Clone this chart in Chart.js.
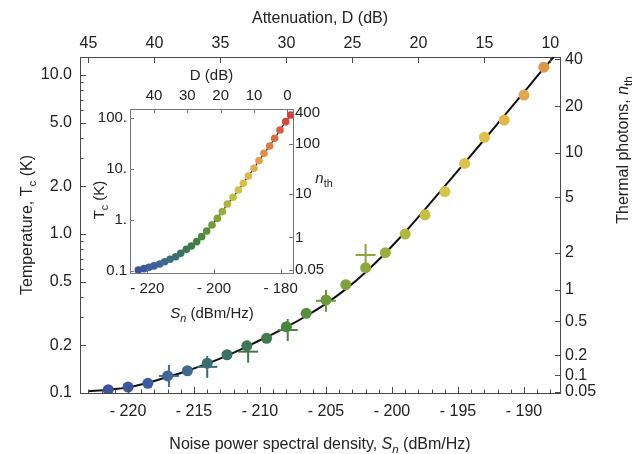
<!DOCTYPE html>
<html>
<head>
<meta charset="utf-8">
<script src="https://cdn.jsdelivr.net/npm/chart.js@4.4.0/dist/chart.umd.min.js"></script>
<style>
  html, body { margin: 0; padding: 0; background: #fff; }
  #wrap { position: relative; width: 636px; height: 454px; }
  #main { position: absolute; left: 0; top: 0; }
  #inset { position: absolute; left: 90px; top: 60px; }
</style>
</head>
<body>
<div id="wrap">
  <canvas id="main" width="636" height="454"></canvas>
  <canvas id="inset" width="250" height="265"></canvas>
</div>
<script>
// Main plot: measured points (Sn in dBm/Hz, Tc in K)
const snMain = [-221.5, -220, -218.5, -217, -215.5, -214, -212.5, -211, -209.5, -208, -206.5, -205,
                -203.5, -202, -200.5, -199, -197.5, -196, -194.5, -193, -191.5, -190, -188.5];
const tcMain = [0.105, 0.109, 0.115, 0.128, 0.138, 0.154, 0.174, 0.198, 0.221, 0.261, 0.317, 0.385,
                0.48, 0.614, 0.763, 1.0, 1.32, 1.85, 2.78, 4.06, 5.21, 7.48, 11.2];
const colMain = ['#3a54a2', '#3b57a1', '#3d5c9f', '#3f6396', '#3e6a8c', '#3a6e72', '#3a7164', '#3c7656',
                 '#3f7c4a', '#478441', '#57903c', '#6a9a3a', '#7ea23a', '#8ea73c', '#9caf3c', '#b0b83e',
                 '#c5c040', '#d6c446', '#dfc24a', '#e2be4a', '#e3b64c', '#e3a850', '#df9648'];

// Main plot: points with error bars
const snCross = [-216.9, -214, -210.9, -207.9, -205, -202];
const tcCross = [0.128, 0.146, 0.182, 0.249, 0.38, 0.738];
const colCross = ['#456a96', '#3a6e6e', '#3d7650', '#4a843f', '#6e9a38', '#8ea83a'];

// Main plot: model curve
const snFit = [-223, -221.5, -220, -218.5, -217, -215.5, -214, -212.5, -211, -209.5, -208, -206.5,
               -205, -203.5, -202, -200.5, -199, -197.5, -196, -194.5, -193, -191.5, -190, -188.5, -187.7];
const tcFit = [0.1025, 0.105, 0.1085, 0.116, 0.126, 0.138, 0.153, 0.172, 0.196, 0.225, 0.26, 0.305,
               0.365, 0.45, 0.575, 0.76, 1.03, 1.43, 2.0, 2.8, 3.93, 5.53, 7.8, 11.0, 13.1];

// Inset: full data set
const snInset = [-222.7, -221.0, -219.5, -218.0, -216.3, -214.8, -213.2, -211.5, -210.0, -208.3,
                 -206.8, -205.2, -203.7, -202.2, -200.6, -199.0, -197.5, -196.0, -194.3, -192.7,
                 -191.2, -189.7, -188.0, -186.5, -185.0, -183.3, -181.8, -180.2, -178.5, -177.0];
const tcInset = [0.103, 0.1096, 0.1165, 0.124, 0.135, 0.150, 0.167, 0.188, 0.219, 0.262,
                 0.305, 0.371, 0.465, 0.600, 0.787, 1.06, 1.44, 2.03, 2.75, 3.82,
                 5.17, 7.19, 10.2, 14.4, 20.0, 27.9, 39.4, 57.4, 83.6, 113];
const colInset = ['#3b52a0', '#3c56a0', '#3d5aa0', '#3e5f9c', '#3e6596', '#3e6a8c', '#3d6e80', '#3b7070',
                  '#3a7262', '#3b7656', '#3e7b4c', '#437f44', '#4e8740', '#5e903c', '#72993a', '#86a33a',
                  '#9aac3c', '#aeb63e', '#c2bf40', '#d2c244', '#dcc046', '#e0b848', '#e2ac4a', '#e29e4a',
                  '#e08e48', '#de7e44', '#dc6c40', '#da5a3a', '#d84a36', '#d63c32'];

// Tick labels
const snTicks = [-220, -215, -210, -205, -200, -195, -190];
const dTicks = [45, 40, 35, 30, 25, 20, 15, 10];
const tcTicks = [0.1, 0.2, 0.5, 1, 2, 5, 10];
const tcLabels = ['0.1', '0.2', '0.5', '1.0', '2.0', '5.0', '10.0'];
const tcMinor = [0.3, 0.4, 0.6, 0.7, 0.8, 0.9, 3, 4, 6, 7, 8, 9];
const nthTicks = [0.05, 0.1, 0.2, 0.5, 1, 2, 5, 10, 20, 40];
const insetSnTicks = [-220, -200, -180];
const insetDTicks = [40, 30, 20, 10, 0];
const insetTcTicks = [0.1, 1, 10, 100];
const insetTcLabels = ['0.1', '1.', '10.', '100.'];
const insetNthTicks = [0.05, 1, 10, 100, 400];

// conversions between the paired axes
const hfk = 0.31;                                  // h f / k in K
const nToT = n => hfk / Math.log(1 + 1 / n);
const dToSn = d => -178 - d;

const FAM = '"Liberation Sans", Arial, Helvetica, sans-serif';
const TXT = '#222';

// ticks drawn inward, like the original frame
const inTicks = {
  id: 'inTicks',
  afterDraw(chart, args, opts) {
    const ctx = chart.ctx;
    ctx.save();
    ctx.strokeStyle = opts.color;
    ctx.lineWidth = 1;
    for (const t of opts.list) {
      const s = chart.scales[t.axis];
      for (const v of t.values) {
        const p = Math.round(s.getPixelForValue(v)) + 0.5;
        ctx.beginPath();
        if (s.position === 'bottom') { ctx.moveTo(p, s.top); ctx.lineTo(p, s.top - t.len); }
        else if (s.position === 'top') { ctx.moveTo(p, s.bottom); ctx.lineTo(p, s.bottom + t.len); }
        else if (s.position === 'left') { ctx.moveTo(s.right, p); ctx.lineTo(s.right + t.len, p); }
        else { ctx.moveTo(s.left, p); ctx.lineTo(s.left - t.len, p); }
        ctx.stroke();
      }
    }
    ctx.restore();
  }
};

// axis titles with italics and subscripts
function drawRuns(ctx, runs, x, y, rot, size) {
  const f = r => (r.i ? 'italic ' : '') + (r.sub ? size * 0.72 : size) + 'px ' + FAM;
  const widths = runs.map(r => { ctx.font = f(r); return ctx.measureText(r.t).width; });
  const w = widths.reduce((a, b) => a + b, 0);
  ctx.save();
  ctx.translate(x, y);
  ctx.rotate(rot);
  ctx.fillStyle = TXT;
  ctx.textBaseline = 'alphabetic';
  ctx.textAlign = 'left';
  let cx = -w / 2;
  runs.forEach((r, k) => {
    ctx.font = f(r);
    ctx.fillText(r.t, cx, size * 0.36 + (r.sub ? size * 0.24 : 0));
    cx += widths[k];
  });
  ctx.restore();
}
const titles = {
  id: 'titles',
  afterDraw(chart, args, opts) {
    for (const t of opts.list) drawRuns(chart.ctx, t.runs, t.x, t.y, t.rot || 0, opts.size);
  }
};

const majorFont = { family: FAM, size: 16 };
const insetFont = { family: FAM, size: 15 };
const noGrid = { display: false, drawTicks: false };

function axis(o) {
  return Object.assign({
    grid: noGrid,
    border: { display: true, color: o.frame, width: 1 },
    ticks: Object.assign({ font: o.font, color: TXT, autoSkip: false, maxRotation: 0, minRotation: 0 }, o.ticks)
  }, o.rest);
}

// ---------- main chart ----------
const mainPts = snMain.map((x, i) => ({ x: x, y: tcMain[i] }));
const crossPts = snCross.map((x, i) => ({ x: x, y: tcCross[i] }));
const fitPts = snFit.map((x, i) => ({ x: x, y: tcFit[i] }));
const snMinor = [];
for (let v = -223; v <= -188; v++) if (v % 5 !== 0) snMinor.push(v);

const FRAME = '#4a4a4a';
new Chart(document.getElementById('main'), {
  type: 'scatter',
  data: {
    datasets: [
      { data: crossPts, pointStyle: 'line', pointRadius: 10, pointRotation: 0,
        pointBorderColor: colCross, pointBorderWidth: 2 },
      { data: crossPts, pointStyle: 'line', pointRadius: 11, pointRotation: 90,
        pointBorderColor: colCross, pointBorderWidth: 2 },
      { data: mainPts, pointRadius: 5.5, pointBackgroundColor: colMain, pointBorderWidth: 0 },
      { type: 'line', data: fitPts, borderColor: '#111', borderWidth: 2, pointRadius: 0,
        cubicInterpolationMode: 'monotone', fill: false }
    ]
  },
  options: {
    responsive: false,
    animation: false,
    events: [],
    layout: { padding: 0 },
    plugins: {
      legend: { display: false },
      tooltip: { enabled: false },
      inTicks: {
        color: FRAME,
        list: [
          { axis: 'x', values: snMinor, len: 3.5 },
          { axis: 'x', values: snTicks, len: 6 },
          { axis: 'xTop', values: dTicks.map(dToSn), len: 6 },
          { axis: 'y', values: tcTicks, len: 6 },
          { axis: 'y', values: tcMinor, len: 3.5 },
          { axis: 'yRight', values: nthTicks.map(nToT), len: 5 }
        ]
      },
      titles: {
        size: 16,
        list: [
          { runs: [{ t: 'Attenuation, D (dB)' }], x: 320, y: 17 },
          { runs: [{ t: 'Noise power spectral density, ' }, { t: 'S', i: 1 }, { t: 'n', i: 1, sub: 1 }, { t: ' (dBm/Hz)' }], x: 320, y: 443 },
          { runs: [{ t: 'Temperature, T' }, { t: 'c', sub: 1 }, { t: ' (K)' }], x: 26, y: 225, rot: -Math.PI / 2 },
          { runs: [{ t: 'Thermal photons, ' }, { t: 'n', i: 1 }, { t: 'th', sub: 1 }], x: 622, y: 150, rot: -Math.PI / 2 }
        ]
      }
    },
    scales: {
      x: axis({ frame: FRAME, font: majorFont,
        ticks: { padding: 9, callback: v => '- ' + Math.abs(v) },
        rest: { type: 'linear', position: 'bottom', min: -223.64, max: -187.27,
          afterFit: s => { s.height = 61; },
          afterBuildTicks: s => { s.ticks = snTicks.map(v => ({ value: v })); } } }),
      xTop: axis({ frame: FRAME, font: majorFont,
        ticks: { padding: 4, callback: v => String(Math.round(-178 - v)) },
        rest: { type: 'linear', position: 'top', min: -223.64, max: -187.27,
          afterFit: s => { s.height = 57; },
          afterBuildTicks: s => { s.ticks = dTicks.map(d => ({ value: dToSn(d) })); } } }),
      y: axis({ frame: FRAME, font: majorFont,
        ticks: { padding: 8, callback: (v, i) => tcLabels[i] },
        rest: { type: 'logarithmic', position: 'left', min: 0.1, max: 12.98,
          afterFit: s => { s.width = 80; },
          afterBuildTicks: s => { s.ticks = tcTicks.map(v => ({ value: v })); } } }),
      yRight: axis({ frame: FRAME, font: majorFont,
        ticks: { padding: 5, callback: (v, i) => String(nthTicks[i]) },
        rest: { type: 'logarithmic', position: 'right', min: 0.1, max: 12.98,
          afterFit: s => { s.width = 76; },
          afterBuildTicks: s => { s.ticks = nthTicks.map(n => ({ value: nToT(n) })); } } })
    }
  },
  plugins: [inTicks, titles]
});

// ---------- inset ----------
const insetPts = snInset.map((x, i) => ({ x: x, y: tcInset[i] }));
const IFRAME = '#777';
new Chart(document.getElementById('inset'), {
  type: 'scatter',
  data: {
    datasets: [
      { data: insetPts, showLine: true, borderColor: '#222', borderWidth: 1.2,
        pointRadius: 3.8, pointBackgroundColor: colInset, pointBorderWidth: 0 }
    ]
  },
  options: {
    responsive: false,
    animation: false,
    events: [],
    layout: { padding: 0 },
    plugins: {
      legend: { display: false },
      tooltip: { enabled: false },
      inTicks: {
        color: IFRAME,
        list: [
          { axis: 'x', values: insetSnTicks, len: 4 },
          { axis: 'xTop', values: insetDTicks.map(dToSn), len: 4 },
          { axis: 'y', values: insetTcTicks, len: 4 },
          { axis: 'yRight', values: insetNthTicks.map(nToT), len: 4 }
        ]
      },
      titles: {
        size: 15,
        list: [
          { runs: [{ t: 'D (dB)' }], x: 121.5, y: 15 },
          { runs: [{ t: 'S', i: 1 }, { t: 'n', i: 1, sub: 1 }, { t: ' (dBm/Hz)' }], x: 122, y: 253 },
          { runs: [{ t: 'T' }, { t: 'c', sub: 1 }, { t: ' (K)' }], x: 9, y: 140, rot: -Math.PI / 2 },
          { runs: [{ t: 'n', i: 1 }, { t: 'th', sub: 1 }], x: 234, y: 118 }
        ]
      }
    },
    scales: {
      x: axis({ frame: IFRAME, font: insetFont,
        ticks: { padding: 7, callback: v => '- ' + Math.abs(v) },
        rest: { type: 'linear', position: 'bottom', min: -225.2, max: -176.3,
          afterFit: s => { s.height = 52; },
          afterBuildTicks: s => { s.ticks = insetSnTicks.map(v => ({ value: v })); } } }),
      xTop: axis({ frame: IFRAME, font: insetFont,
        ticks: { padding: 4, callback: v => String(Math.round(-178 - v)) },
        rest: { type: 'linear', position: 'top', min: -225.2, max: -176.3,
          afterFit: s => { s.height = 49; },
          afterBuildTicks: s => { s.ticks = insetDTicks.map(d => ({ value: dToSn(d) })); } } }),
      y: axis({ frame: IFRAME, font: insetFont,
        ticks: { padding: 3, callback: (v, i) => insetTcLabels[i] },
        rest: { type: 'logarithmic', position: 'left', min: 0.09, max: 148,
          afterFit: s => { s.width = 40; },
          afterBuildTicks: s => { s.ticks = insetTcTicks.map(v => ({ value: v })); } } }),
      yRight: axis({ frame: IFRAME, font: insetFont,
        ticks: { padding: 2, callback: (v, i) => String(insetNthTicks[i]) },
        rest: { type: 'logarithmic', position: 'right', min: 0.09, max: 148,
          afterFit: s => { s.width = 47; },
          afterBuildTicks: s => { s.ticks = insetNthTicks.map(n => ({ value: nToT(n) })); } } })
    }
  },
  plugins: [inTicks, titles]
});
</script>
</body>
</html>
